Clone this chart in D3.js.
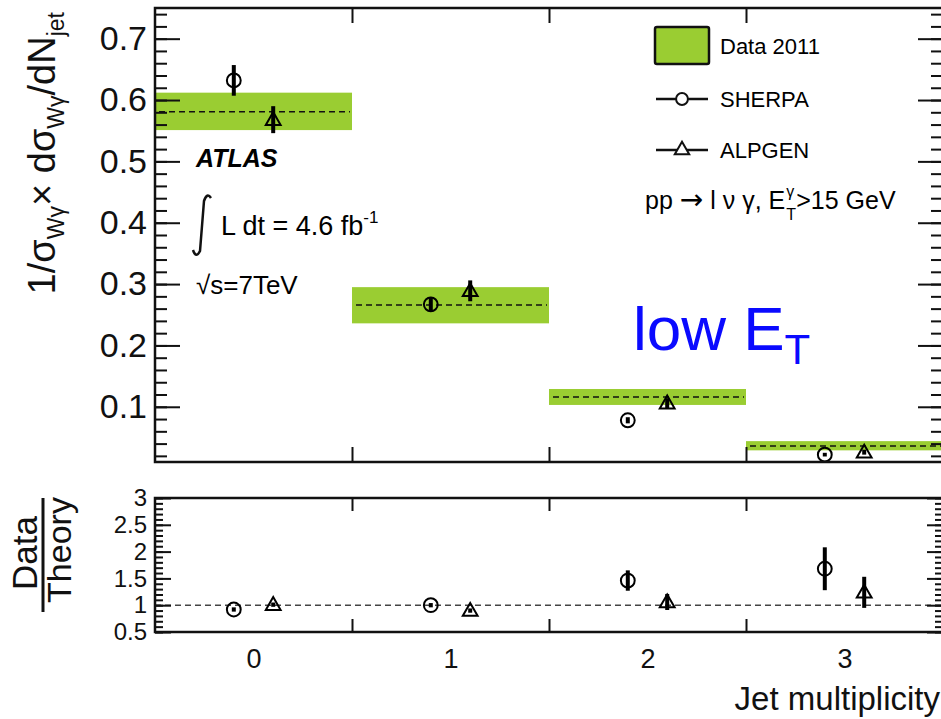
<!DOCTYPE html>
<html>
<head>
<meta charset="utf-8">
<script src="https://cdn.jsdelivr.net/npm/d3@7"></script>
<style>
  body { margin: 0; background: #fff; }
  svg { font-family: "Liberation Sans", Arial, sans-serif; }
</style>
</head>
<body>
<div id="viz"></div>
<script>
// jet multiplicity bins
var jetBins = [0, 1, 2, 3];

// unfolded data (green band) : central, low, high
var dataVal = [0.581, 0.266, 0.116, 0.036];
var dataLo = [0.551, 0.236, 0.103, 0.029];
var dataHi = [0.612, 0.295, 0.129, 0.044];

// predictions
var sherpaVal = [0.632, 0.267, 0.078, 0.022];
var sherpaErr = [0.025, 0.012, 0.005, 0.003];
var alpgenVal = [0.568, 0.289, 0.106, 0.026];
var alpgenErr = [0.022, 0.017, 0.008, 0.004];

// data / theory
var sherpaRatio = [0.92, 1.00, 1.46, 1.68];
var sherpaRatioErr = [0.04, 0.04, 0.19, 0.40];
var alpgenRatio = [1.01, 0.90, 1.06, 1.24];
var alpgenRatioErr = [0.04, 0.04, 0.15, 0.29];

var topTicks = [0.1, 0.2, 0.3, 0.4, 0.5, 0.6, 0.7];
var ratioTicks = [0.5, 1, 1.5, 2, 2.5, 3];
var binEdges = [0.5, 1.5, 2.5];

var width = 941, height = 719;
var green = "#9acd32";

var svg = d3.select('#viz').append('svg')
  .attr('width', width)
  .attr('height', height);

var x = d3.scaleLinear().domain([-0.5, 3.5]).range([155, 943]);
var yTop = d3.scaleLinear().domain([0.01, 0.75]).range([462, 8]);
var yBot = d3.scaleLinear().domain([0.5, 3]).range([632, 498]);

var minorTop = d3.range(1, 38).map(i => i * 0.02).filter(v => v > 0.01 && v < 0.75);
var minorBot = d3.range(5, 31).map(i => i / 10);

var circle = d3.symbol().type(d3.symbolCircle).size(150);
var tri = d3.symbol().type(d3.symbolTriangle).size(95);

function ticks(g, axis) {
  g.call(axis);
  g.select('.domain').remove();
  g.selectAll('line').attr('stroke', '#111').attr('stroke-width', 2);
}

// ---------- top panel ----------
var topG = svg.append('g');

topG.selectAll('rect.band')
  .data(jetBins)
  .join('rect')
  .attr('class', 'band')
  .attr('fill', green)
  .attr('x', d => x(d - 0.5))
  .attr('width', d => x(d + 0.5) - x(d - 0.5))
  .attr('y', (d, i) => yTop(dataHi[i]))
  .attr('height', (d, i) => yTop(dataLo[i]) - yTop(dataHi[i]));

topG.selectAll('line.central')
  .data(jetBins)
  .join('line')
  .attr('stroke', '#111')
  .attr('stroke-width', 1.6)
  .attr('stroke-dasharray', '6,4')
  .attr('x1', d => x(d - 0.5) + 4)
  .attr('x2', d => x(d + 0.5) - 2)
  .attr('y1', (d, i) => yTop(dataVal[i]))
  .attr('y2', (d, i) => yTop(dataVal[i]));

function points(g, ys, off, vals, errs, sym) {
  g.append('g').selectAll('line')
    .data(jetBins)
    .join('line')
    .attr('stroke', '#000')
    .attr('stroke-width', 4)
    .attr('x1', d => x(d + off))
    .attr('x2', d => x(d + off))
    .attr('y1', (d, i) => ys(vals[i] - errs[i]))
    .attr('y2', (d, i) => ys(vals[i] + errs[i]));
  g.append('g').selectAll('path')
    .data(jetBins)
    .join('path')
    .attr('d', sym)
    .attr('fill', 'none')
    .attr('stroke', '#000')
    .attr('stroke-width', 2)
    .attr('transform', (d, i) => `translate(${x(d + off)},${ys(vals[i]) + (sym === tri ? 1 : 0)})`);
}

points(topG, yTop, -0.1, sherpaVal, sherpaErr, circle);
points(topG, yTop, 0.1, alpgenVal, alpgenErr, tri);

// frame and ticks
topG.append('rect')
  .attr('x', x(-0.5)).attr('y', yTop(0.75))
  .attr('width', x(3.5) - x(-0.5)).attr('height', yTop(0.01) - yTop(0.75))
  .attr('fill', 'none').attr('stroke', '#111').attr('stroke-width', 2.5);

topG.append('g').attr('transform', 'translate(155,0)')
  .call(ticks, d3.axisRight(yTop).tickValues(topTicks).tickSize(25).tickFormat(''));
topG.append('g').attr('transform', 'translate(155,0)')
  .call(ticks, d3.axisRight(yTop).tickValues(minorTop).tickSize(12).tickFormat(''));
topG.append('g').attr('transform', 'translate(943,0)')
  .call(ticks, d3.axisLeft(yTop).tickValues(topTicks).tickSize(25).tickFormat(''));
topG.append('g').attr('transform', 'translate(943,0)')
  .call(ticks, d3.axisLeft(yTop).tickValues(minorTop).tickSize(12).tickFormat(''));
topG.append('g').attr('transform', 'translate(0,462)')
  .call(ticks, d3.axisTop(x).tickValues(binEdges).tickSize(15).tickFormat(''));
topG.append('g').attr('transform', 'translate(0,8)')
  .call(ticks, d3.axisBottom(x).tickValues(binEdges).tickSize(15).tickFormat(''));

var topLab = topG.append('g').attr('transform', 'translate(155,0)')
  .call(d3.axisLeft(yTop).tickValues(topTicks).tickSize(0).tickPadding(8).tickFormat(d3.format('.1f')));
topLab.select('.domain').remove();
topLab.selectAll('text').attr('font-size', 34).attr('font-family', '"Liberation Sans", Arial').attr('fill', '#111');

// y title
var yt = svg.append('text')
  .attr('transform', 'translate(55,12) rotate(-90)')
  .attr('text-anchor', 'end')
  .attr('font-size', 38)
  .attr('fill', '#111');
yt.append('tspan').text('1/σ');
yt.append('tspan').text('Wγ').attr('font-size', 23).attr('dy', 9);
yt.append('tspan').text('× dσ').attr('dy', -9);
yt.append('tspan').text('Wγ').attr('font-size', 23).attr('dy', 9);
yt.append('tspan').text('/dN').attr('dy', -9);
yt.append('tspan').text('jet').attr('font-size', 23).attr('dy', 9);

// legend
var leg = svg.append('g');
leg.append('rect').attr('x', 655).attr('y', 27).attr('width', 54).attr('height', 37)
  .attr('rx', 2).attr('fill', green).attr('stroke', '#111').attr('stroke-width', 2.5);
leg.append('text').attr('x', 720).attr('y', 54).attr('font-size', 22).text('Data 2011');
[['SHERPA', 99, circle], ['ALPGEN', 150, tri]].forEach(function(e) {
  leg.append('line').attr('x1', 656).attr('x2', 708).attr('y1', e[1]).attr('y2', e[1])
    .attr('stroke', '#111').attr('stroke-width', 2.5);
  leg.append('path').attr('d', e[2] === circle ? d3.symbol().type(d3.symbolCircle).size(110)() : d3.symbol().type(d3.symbolTriangle).size(90)())
    .attr('transform', `translate(682,${e[1]})`)
    .attr('fill', '#fff').attr('stroke', '#111').attr('stroke-width', 2);
  leg.append('text').attr('x', 720).attr('y', e[1] + 8).attr('font-size', 22).text(e[0]);
});

// process label
var procFs = 25;
var p1 = svg.append('text').attr('x', 645).attr('y', 209).attr('font-size', procFs);
p1.append('tspan').text('pp ');
p1.append('tspan').text('\u2192').attr('font-family', '"DejaVu Sans"').attr('font-size', 28);
p1.append('tspan').text(' l \u03bd \u03b3, E');
var w1 = p1.node().getComputedTextLength();
svg.append('text').attr('x', 645 + w1 + 1).attr('y', 197).attr('font-size', 16).text('γ');
svg.append('text').attr('x', 645 + w1 + 1).attr('y', 220).attr('font-size', 16).text('T');
svg.append('text').attr('x', 645 + w1 + 11).attr('y', 209).attr('font-size', procFs).text('>15 GeV');

// ATLAS block
svg.append('text').attr('x', 196).attr('y', 167).attr('font-size', 25)
  .attr('font-weight', 'bold').attr('font-style', 'italic').text('ATLAS');
svg.append('path')
  .attr('d', 'M193,250 Q196,259 200,251 L204,201 Q207,192 211,198')
  .attr('fill', 'none').attr('stroke', '#111').attr('stroke-width', 2.5);
var lum = svg.append('text').attr('x', 221).attr('y', 235).attr('font-size', 27);
lum.append('tspan').text('L dt = 4.6 fb');
lum.append('tspan').text('-1').attr('font-size', 17).attr('dy', -12);
svg.append('text').attr('x', 196).attr('y', 294).attr('font-size', 26).text('√s=7TeV');

// low E_T
var low = svg.append('text').attr('x', 633).attr('y', 350).attr('font-size', 62).attr('fill', '#0a0aff');
low.append('tspan').text('low E');
low.append('tspan').text('T').attr('font-size', 42).attr('dy', 14);

// ---------- ratio panel ----------
var botG = svg.append('g');

botG.append('line')
  .attr('x1', x(-0.5)).attr('x2', x(3.5))
  .attr('y1', yBot(1)).attr('y2', yBot(1))
  .attr('stroke', '#444').attr('stroke-width', 1.6).attr('stroke-dasharray', '6,4');

points(botG, yBot, -0.1, sherpaRatio, sherpaRatioErr, circle);
points(botG, yBot, 0.1, alpgenRatio, alpgenRatioErr, tri);

botG.append('rect')
  .attr('x', x(-0.5)).attr('y', yBot(3))
  .attr('width', x(3.5) - x(-0.5)).attr('height', yBot(0.5) - yBot(3))
  .attr('fill', 'none').attr('stroke', '#111').attr('stroke-width', 2.5);

botG.append('g').attr('transform', 'translate(155,0)')
  .call(ticks, d3.axisRight(yBot).tickValues(ratioTicks).tickSize(16).tickFormat(''));
botG.append('g').attr('transform', 'translate(155,0)')
  .call(ticks, d3.axisRight(yBot).tickValues(minorBot).tickSize(8).tickFormat(''));
botG.append('g').attr('transform', 'translate(943,0)')
  .call(ticks, d3.axisLeft(yBot).tickValues(ratioTicks).tickSize(16).tickFormat(''));
botG.append('g').attr('transform', 'translate(943,0)')
  .call(ticks, d3.axisLeft(yBot).tickValues(minorBot).tickSize(8).tickFormat(''));
botG.append('g').attr('transform', 'translate(0,632)')
  .call(ticks, d3.axisTop(x).tickValues(binEdges).tickSize(13).tickFormat(''));
botG.append('g').attr('transform', 'translate(0,498)')
  .call(ticks, d3.axisBottom(x).tickValues(binEdges).tickSize(13).tickFormat(''));

var botLab = botG.append('g').attr('transform', 'translate(155,0)')
  .call(d3.axisLeft(yBot).tickValues(ratioTicks).tickSize(0).tickPadding(8).tickFormat(d3.format('')));
botLab.select('.domain').remove();
botLab.selectAll('text').attr('font-size', 24).attr('font-family', '"Liberation Sans", Arial').attr('fill', '#111');

var xLab = botG.append('g').attr('transform', 'translate(0,632)')
  .call(d3.axisBottom(x).tickValues(jetBins).tickSize(0).tickPadding(17).tickFormat(d3.format('d')));
xLab.select('.domain').remove();
xLab.selectAll('text').attr('font-size', 27).attr('font-family', '"Liberation Sans", Arial').attr('fill', '#111');

svg.append('text').attr('x', 940).attr('y', 710).attr('text-anchor', 'end')
  .attr('font-size', 33).attr('fill', '#111').text('Jet multiplicity');

// Data / Theory
svg.append('text').attr('transform', 'translate(37,553) rotate(-90)')
  .attr('text-anchor', 'middle').attr('font-size', 35).attr('fill', '#111').text('Data');
svg.append('text').attr('transform', 'translate(71,550) rotate(-90)')
  .attr('text-anchor', 'middle').attr('font-size', 34).attr('fill', '#111').text('Theory');
svg.append('line').attr('x1', 43).attr('x2', 43).attr('y1', 498).attr('y2', 612)
  .attr('stroke', '#111').attr('stroke-width', 3);
</script>
</body>
</html>
